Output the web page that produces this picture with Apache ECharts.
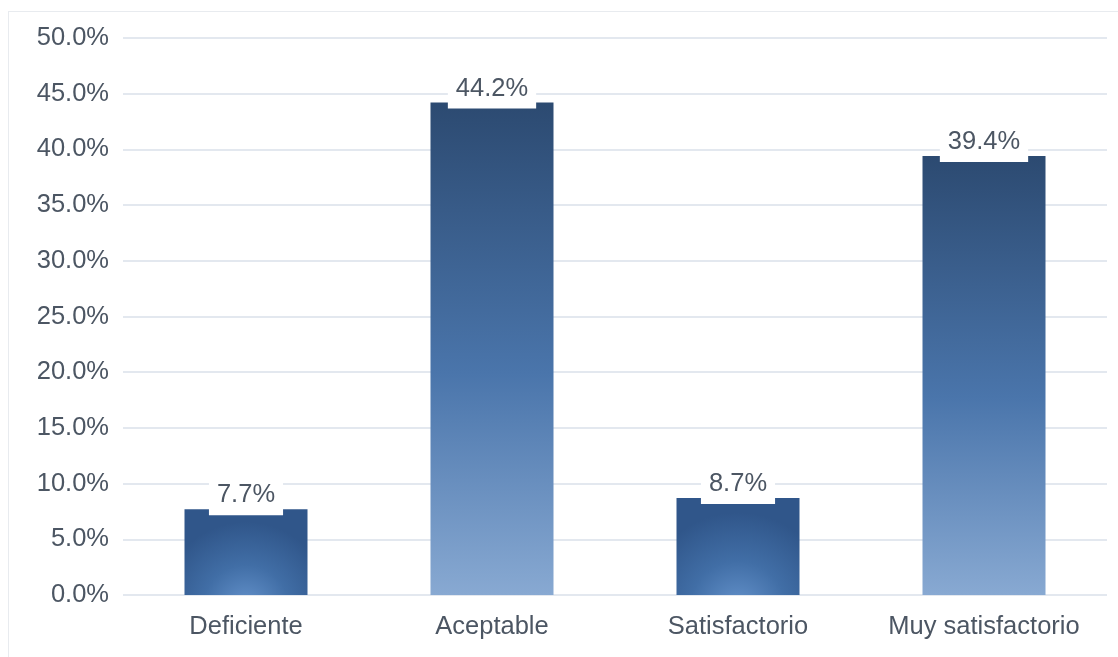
<!DOCTYPE html>
<html>
<head>
<meta charset="utf-8">
<script src="https://cdn.jsdelivr.net/npm/echarts@6/dist/echarts.min.js"></script>
<style>
  html, body { margin: 0; padding: 0; background: #fff; }
  .frame {
    position: absolute;
    left: 8px; top: 11px; width: 1118px; height: 660px;
    border-left: 1px solid #e8ebef;
    border-top: 1px solid #e8ebef;
  }
  #chart { position: absolute; left: 0; top: 0; width: 1118px; height: 657px; }
</style>
</head>
<body>
<div class="frame"></div>
<div id="chart"></div>
<script>
const categories = ['Deficiente', 'Aceptable', 'Satisfactorio', 'Muy satisfactorio']
const values = [7.7, 44.2, 8.7, 39.4]
const yTicks = { min: 0, max: 50, interval: 5 }

const chart = echarts.init(document.getElementById('chart'))

// tall bars: linear dark-to-light; short ones look more like a soft glow from the bottom
const tallFill = new echarts.graphic.LinearGradient(0, 0, 0, 1, [
  { offset: 0, color: '#2c4a71' },
  { offset: 0.55, color: '#4a75ab' },
  { offset: 1, color: '#88a9d2' }
])
const shortFill = new echarts.graphic.RadialGradient(0.5, 1.15, 1.0, [
  { offset: 0, color: '#6593cc' },
  { offset: 0.5, color: '#416ea6' },
  { offset: 1, color: '#30568a' }
])

const option = {
  animation: false,
  textStyle: { fontFamily: 'Liberation Sans, Arial, sans-serif' },
  grid: { left: 123, right: 11, top: 38, bottom: 62 },
  xAxis: {
    type: 'category',
    data: categories,
    axisLine: { show: false },
    axisTick: { show: false },
    axisLabel: { color: '#4c5663', fontSize: 25.5, margin: 19, interval: 0, hideOverlap: false }
  },
  yAxis: {
    type: 'value',
    min: yTicks.min,
    max: yTicks.max,
    interval: yTicks.interval,
    axisLine: { show: false },
    axisTick: { show: false },
    axisLabel: {
      color: '#4c5663',
      fontSize: 25.5,
      margin: 14,
      formatter: v => v.toFixed(1) + '%'
    },
    splitLine: { lineStyle: { color: '#e3e8ef', width: 2 } }
  },
  series: [{
    type: 'bar',
    barWidth: '50%',
    data: values.map(v => ({
      value: v,
      itemStyle: { color: v > 20 ? tallFill : shortFill }
    })),
    label: {
      show: true,
      position: 'top',
      distance: -6,
      color: '#4c5663',
      fontSize: 25.5,
      lineHeight: 26,
      backgroundColor: '#fff',
      padding: [2, 8, 7, 8],
      formatter: p => p.value.toFixed(1) + '%'
    }
  }]
}

chart.setOption(option)
</script>
</body>
</html>
